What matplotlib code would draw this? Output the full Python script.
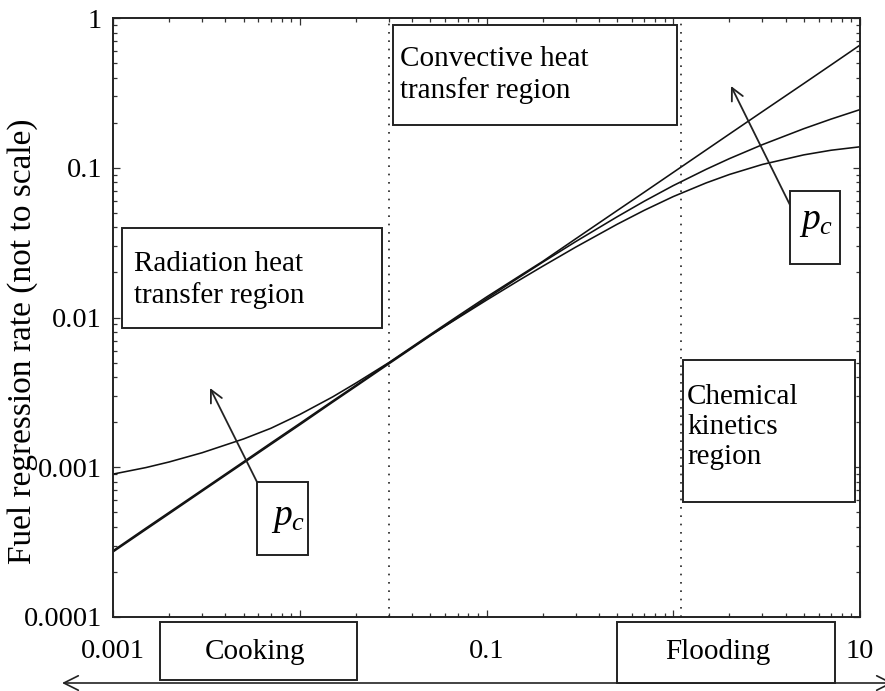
import matplotlib
matplotlib.use("Agg")
import matplotlib.pyplot as plt
from matplotlib.patches import Rectangle
from matplotlib.ticker import LogLocator, FixedLocator, FixedFormatter, NullFormatter

plt.rcParams['font.family'] = ['Liberation Serif', 'DejaVu Serif']
plt.rcParams['mathtext.fontset'] = 'custom'
plt.rcParams['mathtext.it'] = 'Liberation Serif:italic'
plt.rcParams['mathtext.rm'] = 'Liberation Serif'

# ---- data ----
mass_flux = [0.001, 0.0015, 0.002, 0.003, 0.005, 0.007, 0.01, 0.015, 0.02,
             0.03, 0.05, 0.07, 0.1, 0.15, 0.2, 0.3, 0.5, 0.7, 1, 1.5, 2, 3,
             5, 7, 10]
rate_high = [9.0e-4, 9.95e-4, 1.085e-3, 1.25e-3, 1.545e-3, 1.82e-3, 2.25e-3,
             2.95e-3, 3.65e-3, 5.0e-3, 7.7e-3, 0.0102, 0.0137, 0.0189, 0.0237,
             0.0335, 0.0517, 0.0687, 0.0931, 0.1315, 0.168, 0.237, 0.365,
             0.486, 0.659]
rate_mid = [2.72e-4, 3.84e-4, 4.90e-4, 6.92e-4, 1.067e-3, 1.42e-3, 1.92e-3,
            2.72e-3, 3.47e-3, 4.90e-3, 7.55e-3, 9.98e-3, 0.01337, 0.01857,
            0.0234, 0.0321, 0.0470, 0.0598, 0.0760, 0.0976, 0.1151, 0.1426,
            0.1823, 0.2113, 0.2445]
rate_low = [2.77e-4, 3.92e-4, 5.0e-4, 7.05e-4, 1.088e-3, 1.45e-3, 1.96e-3,
            2.77e-3, 3.53e-3, 4.97e-3, 7.6e-3, 9.89e-3, 0.01306, 0.01778,
            0.0220, 0.02948, 0.0419, 0.0520, 0.0642, 0.0792, 0.0902, 0.1052,
            0.1219, 0.1309, 0.138]
region_bounds = [0.03, 1.1]
y_ticks = [0.0001, 0.001, 0.01, 0.1, 1]
y_tick_labels = ['0.0001', '0.001', '0.01', '0.1', '1']
x_ticks = [0.001, 0.01, 0.1, 1, 10]
x_tick_labels = ['0.001', '', '0.1', '', '10']
y_label = 'Fuel regression rate (not to scale)'

W, H = 885, 691
fig = plt.figure(figsize=(W / 100, H / 100), dpi=100)


def fx(px):
    return px / W


def fy(py):
    return 1 - py / H


ax = fig.add_axes([fx(113), fy(617), (860 - 113) / W, (617 - 18) / H])
ax.set_xscale('log')
ax.set_yscale('log')
ax.set_xlim(0.001, 10)
ax.set_ylim(0.0001, 1)

for r in (rate_high, rate_mid, rate_low):
    ax.plot(mass_flux, r, color='#111111', lw=1.15)
for b in region_bounds:
    ax.axvline(b, color='#222222', lw=1.2, ls=(0, (1, 4)))

ax.xaxis.set_major_locator(FixedLocator(x_ticks))
ax.xaxis.set_major_formatter(FixedFormatter(x_tick_labels))
ax.xaxis.set_minor_locator(LogLocator(base=10, subs=range(2, 10)))
ax.xaxis.set_minor_formatter(NullFormatter())
ax.yaxis.set_major_locator(FixedLocator(y_ticks))
ax.yaxis.set_major_formatter(FixedFormatter(y_tick_labels))
ax.yaxis.set_minor_locator(LogLocator(base=10, subs=range(2, 10)))
ax.yaxis.set_minor_formatter(NullFormatter())

ax.tick_params(which='both', direction='in', top=True, right=True,
               color='#333333', width=0.9)
ax.tick_params(which='major', length=5, labelsize=20.5)
ax.tick_params(which='minor', length=3)
ax.tick_params(axis='x', which='major', pad=16)
ax.tick_params(axis='y', which='major', pad=8)
for s in ax.spines.values():
    s.set_linewidth(1.4)
    s.set_color('#222222')

fig.text(fx(23), fy(341), y_label, rotation=90, ha='center', va='center',
         fontsize=24)


def box(x0, y0, x1, y1):
    fig.patches.append(Rectangle((fx(x0), fy(y1)), (x1 - x0) / W, (y1 - y0) / H,
                                 transform=fig.transFigure, facecolor='white',
                                 edgecolor='#222222', lw=1.4, zorder=3))


box(393, 25, 677, 125)
fig.text(fx(400), fy(75), 'Convective heat\ntransfer region', ha='left',
         va='center', fontsize=21, zorder=4)
box(122, 228, 382, 328)
fig.text(fx(134), fy(280), 'Radiation heat\ntransfer region', ha='left',
         va='center', fontsize=21, zorder=4)
box(683, 360, 855, 502)
fig.text(fx(687), fy(427), 'Chemical\nkinetics\nregion', ha='left',
         va='center', fontsize=21, zorder=4)
box(257, 482, 308, 555)
fig.text(fx(288), fy(518), r'$p_c$', ha='center', va='center', fontsize=27,
         zorder=4)
box(790, 191, 840, 264)
fig.text(fx(816), fy(222), r'$p_c$', ha='center', va='center', fontsize=27,
         zorder=4)
box(160, 622, 357, 680)
fig.text(fx(255), fy(652), 'Cooking', ha='center', va='center', fontsize=21,
         zorder=4)
box(617, 622, 835, 683)
fig.text(fx(718), fy(652), 'Flooding', ha='center', va='center', fontsize=21,
         zorder=4)

arrow_kw = dict(arrowstyle='->', lw=1.3, color='#222222', mutation_scale=22,
                shrinkA=0, shrinkB=0)
ax.annotate('', xy=(fx(210), fy(388)), xytext=(fx(257), fy(482)),
            xycoords='figure fraction', textcoords='figure fraction',
            arrowprops=arrow_kw, annotation_clip=False)
ax.annotate('', xy=(fx(731), fy(86)), xytext=(fx(790), fy(205)),
            xycoords='figure fraction', textcoords='figure fraction',
            arrowprops=arrow_kw, annotation_clip=False)
ax.annotate('', xy=(fx(62), fy(683)), xytext=(fx(893), fy(683)),
            xycoords='figure fraction', textcoords='figure fraction',
            arrowprops=dict(arrowstyle='<->', lw=1.2, color='#222222',
                            mutation_scale=26, shrinkA=0, shrinkB=0),
            annotation_clip=False)

fig.savefig('out.png', dpi=100)
